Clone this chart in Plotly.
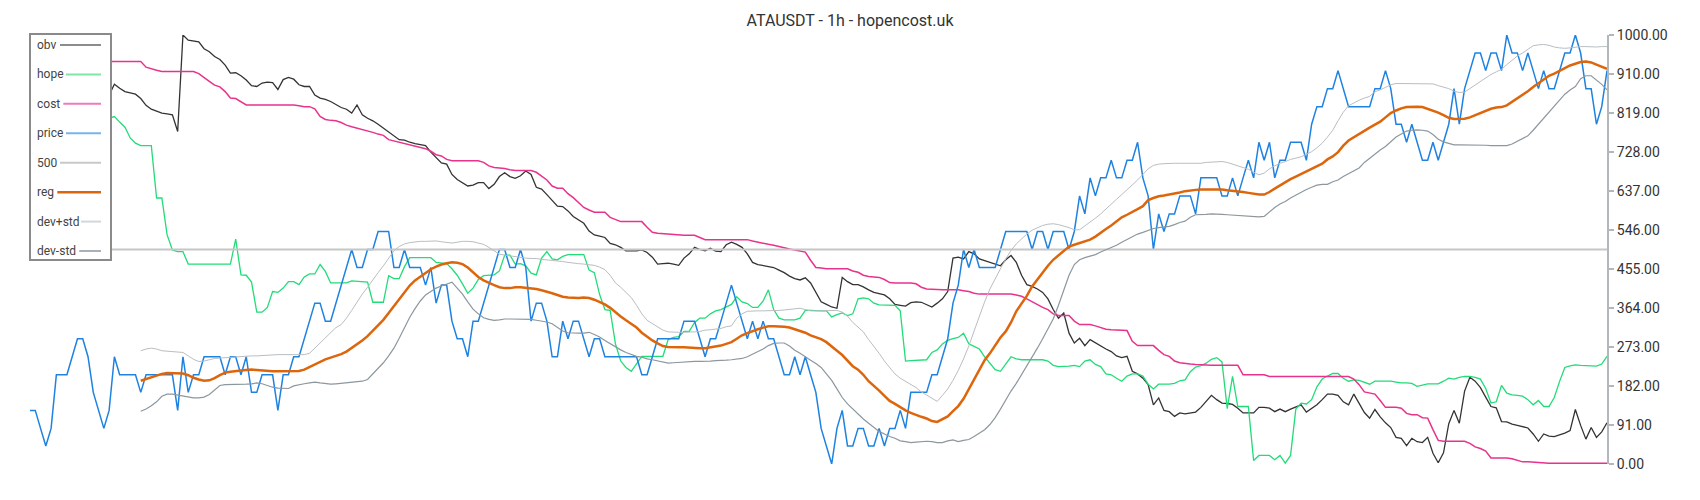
import plotly.graph_objects as go

# ---------------- data (normalised 0-1000) ----------------
price = [
125,125,83,42,83,208,208,208,250,292,
292,250,167,125,83,125,250,208,208,208,
208,167,208,208,208,208,208,208,125,250,
167,208,208,250,250,250,250,208,250,250,
208,250,167,167,208,208,208,125,208,208,
250,250,292,333,375,375,333,333,375,417,
458,500,458,458,500,500,542,542,542,458,
458,500,458,458,458,417,458,375,417,417,
333,292,292,250,333,333,375,417,458,500,
500,458,458,500,458,333,375,375,333,250,
250,333,292,333,333,292,250,292,292,250,
250,250,250,250,250,250,208,208,250,292,
292,292,292,292,333,333,333,292,250,292,
292,333,375,417,375,333,292,333,292,333,
292,292,250,208,208,250,208,250,208,167,
83,42,0,83,125,42,42,83,83,42,
42,83,42,83,83,125,83,167,167,167,
167,208,208,250,292,375,417,500,458,500,
458,458,458,458,500,542,542,542,542,542,
500,542,542,500,542,542,542,500,542,625,
583,667,625,667,667,708,667,667,708,708,
750,667,625,500,583,542,583,583,625,625,
625,583,667,667,667,667,625,625,667,625,
667,708,667,750,708,750,667,708,708,750,
750,750,708,792,833,833,875,875,917,875,
833,833,833,833,833,875,875,917,875,792,
792,750,792,750,708,708,750,708,750,792,
875,792,875,917,958,958,917,958,958,917,
1000,958,958,917,958,917,875,917,875,875,
917,958,958,1000,958,875,875,792,833,917]

obv = [
840,860,870,865,860,855,850,852,848,845,
850,848,845,840,845,860,885,876,868,865,
862,852,836,827,823,818,816,814,775,1000,
988,986,984,968,961,950,943,930,911,912,
905,895,882,880,888,890,889,873,896,901,
897,884,880,880,860,853,850,845,837,831,
827,818,837,814,806,800,792,783,776,766,
756,755,750,747,745,742,727,715,702,699,
675,663,655,648,650,656,656,642,652,670,
679,670,666,672,683,675,645,641,628,615,
601,600,590,577,570,561,543,534,531,528,
514,511,505,497,497,497,499,493,482,466,
467,468,466,463,480,490,505,500,497,503,
496,495,511,517,512,505,490,470,465,463,
461,458,452,446,438,432,429,434,422,400,
378,372,366,363,435,425,418,418,413,406,
400,397,394,385,372,370,368,376,378,377,
372,366,375,385,402,480,482,478,495,490,
478,474,469,465,462,476,486,470,440,418,
414,408,400,385,360,340,352,305,282,293,
276,290,282,274,268,262,252,248,251,216,
210,200,185,138,154,125,122,111,119,117,
119,121,132,145,160,150,142,141,139,130,
119,119,119,132,132,130,122,128,122,128,
133,138,121,130,138,150,163,163,160,145,
138,163,142,120,107,127,110,96,85,62,
60,43,60,52,50,62,25,3,26,94,
125,95,170,202,193,178,156,134,131,99,
98,93,90,87,84,70,53,70,65,64,
68,72,78,127,90,58,85,62,75,96]

hope = [
1000,985,968,952,938,922,908,893,880,866,
853,842,832,822,813,806,810,797,785,760,
748,742,742,742,620,620,534,499,495,495,
466,466,466,466,466,466,466,466,466,524,
441,440,424,354,354,365,402,400,410,425,
425,418,436,443,443,465,449,422,422,422,
422,427,426,425,424,377,377,377,439,432,
432,460,481,481,481,481,481,470,468,467,
455,440,420,398,410,430,439,440,441,450,
487,487,466,467,462,445,441,480,495,478,
476,484,488,488,488,488,452,446,395,360,
358,280,240,225,216,235,251,251,251,251,
251,290,295,297,309,309,330,340,340,350,
357,360,367,372,390,378,374,365,365,380,
406,360,340,336,336,336,340,358,358,357,
357,357,343,348,352,346,350,385,387,385,
375,371,371,371,370,357,240,241,242,243,
243,260,266,280,288,292,295,305,280,274,
268,250,235,220,216,232,250,245,243,243,
243,243,243,240,230,227,227,228,230,227,
240,243,232,227,210,208,200,193,205,210,
210,205,186,175,186,186,186,188,194,196,
215,226,229,235,244,248,238,129,204,134,
134,134,8,20,20,20,10,20,2,20,
128,142,140,150,180,198,205,211,211,200,
193,196,195,190,186,193,193,193,193,191,
189,189,188,181,184,187,187,187,193,200,
198,202,204,204,202,198,176,142,145,183,
165,161,160,158,150,138,148,134,134,155,
192,225,229,231,230,229,228,228,233,251]

cost = [
945,945,945,945,945,945,945,945,945,945,
945,938,938,938,938,938,938,938,938,938,
938,938,925,921,918,915,915,915,915,915,
915,915,910,900,892,883,879,868,853,852,
845,837,837,837,837,837,837,837,837,837,
837,835,833,833,828,810,803,801,800,796,
790,786,783,779,776,773,769,766,756,753,
750,746,744,741,738,735,729,721,718,710,
707,707,707,707,707,707,703,695,691,690,
689,686,684,684,684,684,680,671,662,648,
643,643,630,621,610,598,592,587,587,587,
575,570,565,565,565,565,565,552,540,538,
537,536,535,533,533,533,533,528,523,523,
523,523,523,523,523,523,523,520,517,515,
512,510,507,503,501,499,497,494,475,458,
457,455,455,455,455,455,450,447,440,437,
436,435,430,423,422,422,422,422,420,412,
408,407,407,406,406,406,406,404,402,398,
396,396,396,396,396,396,396,394,391,385,
378,372,365,360,350,346,346,346,333,325,
325,325,322,318,314,313,312,312,311,286,
276,276,276,276,265,255,251,240,236,234,
233,232,231,231,230,230,230,230,230,230,
208,208,208,208,208,204,204,204,204,204,
204,204,204,204,204,204,204,204,204,204,
204,198,185,168,165,163,148,132,132,132,
130,118,115,115,108,107,80,55,53,53,
53,53,53,48,40,36,30,14,14,14,
14,12,8,5,5,4,3,2,2,2,
2,2,2,2,2,2,2,2,2,2]

level_500 = [500] * 300

reg = [None] * 21 + [
194,198,203,207,210,212,212,212,211,
207,201,197,194,195,200,207,213,215,217,
218,219,220,219,218,216,216,216,216,216,
216,217,220,226,233,239,244,248,252,256,
262,270,278,288,298,310,323,336,352,368,
386,402,416,428,437,447,454,460,465,468,
470,469,466,458,447,436,428,422,417,412,
410,410,412,412,411,410,408,405,402,398,
394,390,388,387,387,388,387,383,378,372,
364,353,344,335,326,318,306,296,288,281,
275,273,272,272,272,271,271,270,270,272,
274,276,280,284,292,300,305,310,314,318,
321,321,321,320,318,314,311,306,300,295,
291,284,273,264,254,241,228,220,208,193,
183,171,159,147,140,132,125,119,114,110,
106,100,98,105,111,123,135,152,175,196,
220,242,258,278,295,309,330,356,374,392,
414,430,447,462,476,486,498,507,511,515,
518,523,530,540,548,556,566,575,581,587,
594,601,615,620,624,626,628,630,633,636,
638,639,640,640,640,641,640,638,637,636,
634,632,630,628,628,634,642,650,657,664,
670,676,682,687,693,700,710,717,727,742,
754,762,770,777,784,791,798,808,818,824,
829,832,833,833,832,828,823,819,813,807,
804,804,805,808,813,819,824,828,831,832,
836,844,853,861,869,879,888,897,905,910,
916,922,929,933,937,938,936,931,926,921]

dev_plus = [None] * 21 + [
264,268,270,268,264,263,262,262,260,
252,244,239,240,243,246,247,248,249,250,
251,251,252,252,253,254,255,255,255,255,
255,255,255,258,270,282,296,308,318,325,
340,358,378,396,412,430,446,462,480,497,
507,513,516,518,519,519,520,520,518,516,
515,517,519,519,518,515,512,505,496,489,
487,485,483,481,480,479,479,477,476,474,
473,472,470,468,467,466,464,463,459,453,
440,422,412,400,388,370,350,335,328,320,
312,308,307,307,307,307,308,309,312,313,
314,316,320,322,340,350,356,357,357,357,
357,358,358,359,360,362,363,360,357,357,
357,358,358,358,354,345,330,318,308,290,
275,258,240,225,210,200,193,186,178,168,
160,152,146,160,175,195,218,245,275,310,
345,378,408,433,455,478,498,513,525,536,
545,551,556,559,560,558,555,551,546,546,
555,563,573,583,595,605,617,628,639,650,
662,675,688,696,699,700,701,701,701,701,
701,701,701,703,704,705,705,703,699,695,
691,687,680,674,678,688,695,701,705,710,
713,716,722,728,737,748,762,778,800,820,
835,842,848,853,857,868,872,878,884,887,
887,886,886,886,886,886,886,882,879,875,
869,866,867,875,885,892,900,908,914,920,
931,941,951,958,967,975,977,978,976,972,
970,969,970,972,973,973,972,972,973,973]

dev_minus = [None] * 21 + [
123,128,136,145,158,163,163,161,159,
156,154,154,156,162,172,183,185,185,185,
185,186,187,189,187,183,179,177,177,176,
182,185,187,189,191,189,187,186,187,188,
189,190,191,193,197,210,222,236,252,270,
293,318,342,362,380,394,402,410,415,420,
424,410,396,378,361,350,341,337,335,336,
338,338,338,338,338,337,335,333,331,327,
318,310,306,305,305,305,307,302,296,288,
280,272,266,260,255,251,249,245,243,240,
237,235,236,237,238,239,239,239,239,240,
241,241,242,243,244,246,250,256,262,268,
276,281,282,282,275,265,258,251,242,234,
225,210,195,175,155,140,128,115,105,95,
86,76,70,64,60,54,52,50,51,52,
53,52,50,50,54,56,52,55,57,64,
72,80,92,108,128,150,170,188,208,228,
248,270,292,315,338,370,405,440,465,476,
481,484,488,494,499,504,510,517,523,530,
536,540,545,549,551,553,554,558,563,566,
575,581,581,582,583,583,582,581,580,579,
578,577,577,576,577,588,598,606,612,620,
627,633,640,645,650,652,652,658,662,670,
677,682,690,703,713,724,732,740,751,762,
769,776,778,779,778,776,768,757,751,747,
744,744,744,744,744,744,743,742,742,742,
742,746,752,758,765,778,792,806,820,834,
848,862,872,880,898,905,905,896,885,872]

y_tick_values = [0, 91, 182, 273, 364, 455, 546, 637, 728, 819, 910, 1000]
y_tick_labels = ["0.00", "91.00", "182.00", "273.00", "364.00", "455.00",
                 "546.00", "637.00", "728.00", "819.00", "910.00", "1000.00"]

series_names = ["obv", "hope", "cost", "price", "500", "reg", "dev+std", "dev-std"]

# ---------------- styles ----------------
W, H = 1700, 500
L, R, T, B = 30, 93, 35, 36
FONT = "Roboto, 'Noto Sans', sans-serif"

line_styles = {
    "obv":     dict(color="#333333", width=1.3),
    "hope":    dict(color="#22dc78", width=1.3),
    "cost":    dict(color="#e8328c", width=1.5),
    "price":   dict(color="#1e82e1", width=1.5),
    "500":     dict(color="#c6c6c6", width=2),
    "reg":     dict(color="#dd660c", width=2.5),
    "dev+std": dict(color="#b9bec2", width=1),
    "dev-std": dict(color="#8c979e", width=1.2),
}
swatch_colors = {
    "obv": "#8c8c8c", "hope": "#7fe6aa", "cost": "#ef7ab7", "price": "#78b4ec",
    "500": "#c8c8c8", "reg": "#d9650c", "dev+std": "#d3d7da", "dev-std": "#a8b1b7",
}
swatch_start_px = [60, 66, 63.3, 66, 60, 57.3, 81, 79.3]

series_data = {
    "obv": obv, "hope": hope, "cost": cost, "price": price, "500": level_500,
    "reg": reg, "dev+std": dev_plus, "dev-std": dev_minus,
}

x = list(range(len(price)))

fig = go.Figure()
for name in series_names:
    fig.add_trace(go.Scatter(
        x=x, y=series_data[name], mode="lines", name=name,
        line=dict(**line_styles[name]), showlegend=False, hoverinfo="skip",
    ))

# pixel -> paper helpers (plot area: x 30..1607, y 35..464)
pw = W - L - R
ph = H - T - B
def px(v):
    return (v - L) / pw
def py(v):
    return (H - B - v) / ph

shapes = []
annotations = []
# legend box
shapes.append(dict(type="rect", xref="paper", yref="paper",
                   x0=px(30), x1=px(111), y0=py(260), y1=py(34),
                   line=dict(color="#8a8a8a", width=2), fillcolor="white", layer="above"))
for k, name in enumerate(series_names):
    cy = 45 + 29.43 * k
    annotations.append(dict(xref="paper", yref="paper", x=px(35), y=py(cy),
                            xanchor="left", yanchor="middle", showarrow=False,
                            text=name, font=dict(family=FONT, size=12, color="#444444")))
    shapes.append(dict(type="line", xref="paper", yref="paper",
                       x0=px(swatch_start_px[k]), x1=px(101), y0=py(cy), y1=py(cy),
                       line=dict(color=swatch_colors[name], width=2.5 if name == "reg" else 2),
                       layer="above"))

fig.update_layout(
    width=W, height=H,
    margin=dict(l=L, r=R, t=T, b=B),
    paper_bgcolor="white", plot_bgcolor="white",
    title=dict(text="ATAUSDT - 1h - hopencost.uk", x=0.5, xref="container",
               y=1 - 20.5 / H, yref="container", xanchor="center", yanchor="middle",
               font=dict(family=FONT, size=16, color="#333333")),
    xaxis=dict(range=[0, len(price) - 1], visible=False, showgrid=False, zeroline=False),
    yaxis=dict(range=[0, 1000], side="right", tickmode="array",
               tickvals=y_tick_values, ticktext=y_tick_labels,
               ticks="outside", ticklen=5, tickwidth=1.5, tickcolor="#b0b8be",
               showline=True, linecolor="#b0b8be", linewidth=2,
               showgrid=False, zeroline=False,
               tickfont=dict(family=FONT, size=14, color="#333333")),
    shapes=shapes, annotations=annotations,
    showlegend=False,
)

fig.write_html("out.html",
               config={"displayModeBar": False},
               post_script="document.body.style.margin='0';document.body.style.overflow='hidden';")
